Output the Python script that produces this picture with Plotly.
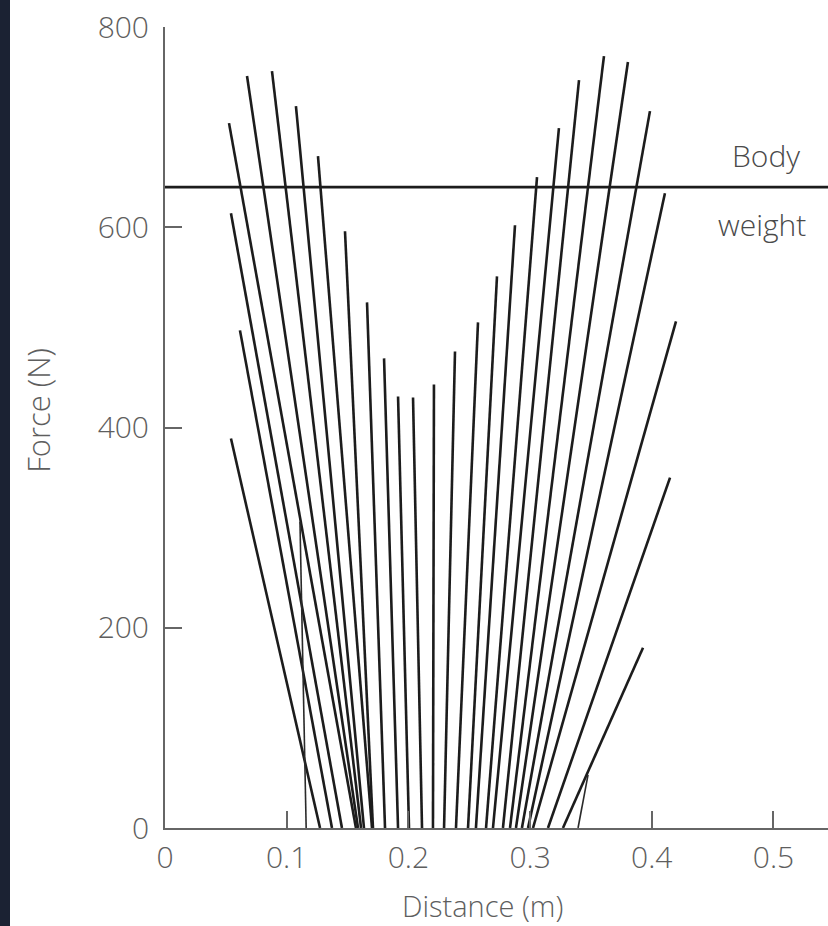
import plotly.graph_objects as go

# Force vectors: ground point (distance at F=0) and tip (distance, force)
base_x = [0.116, 0.1274, 0.1372, 0.1454, 0.1569, 0.1586, 0.1611, 0.1635, 0.1701, 0.1709,
          0.1808, 0.1915, 0.2005, 0.2112, 0.2202, 0.2293, 0.2391, 0.2490, 0.2555, 0.2638,
          0.2695, 0.2777, 0.2835, 0.2884, 0.2933, 0.2983, 0.3024, 0.3147, 0.3270, 0.3394]
tip_x = [0.1109, 0.0542, 0.0616, 0.0542, 0.0526, 0.0674, 0.0879, 0.1076, 0.1257, 0.1479,
         0.1660, 0.1800, 0.1915, 0.2038, 0.2210, 0.2383, 0.2572, 0.2728, 0.2876, 0.3057,
         0.3237, 0.3402, 0.3607, 0.3804, 0.3985, 0.4108, 0.4199, 0.4150, 0.3928, 0.3476]
tip_force = [306, 389, 497, 614, 704, 751, 756, 721, 671, 596,
             525, 469, 431, 430, 443, 476, 505, 551, 602, 650,
             699, 747, 771, 765, 716, 634, 506, 350, 180, 53]
thin = [0, 29]

body_weight = 640
x_ticks = [0, 0.1, 0.2, 0.3, 0.4, 0.5]
x_labels = ["0", "0.1", "0.2", "0.3", "0.4", "0.5"]
y_ticks = [0, 200, 400, 600, 800]
y_labels = ["0", "200", "400", "600", "800"]

X_MAX = 0.5448

fig = go.Figure()

xs, ys, xt, yt = [], [], [], []
for i, (b, t, f) in enumerate(zip(base_x, tip_x, tip_force)):
    if i in thin:
        xt += [b, t, None]; yt += [0, f, None]
    else:
        xs += [b, t, None]; ys += [0, f, None]

fig.add_trace(go.Scatter(x=xs, y=ys, mode="lines",
                         line=dict(color="#1c1c1c", width=2.6), hoverinfo="skip"))
fig.add_trace(go.Scatter(x=xt, y=yt, mode="lines",
                         line=dict(color="#2a2a2a", width=1.6), hoverinfo="skip"))
fig.add_trace(go.Scatter(x=[0, X_MAX], y=[body_weight, body_weight], mode="lines",
                         line=dict(color="#1c1c1c", width=2.8), hoverinfo="skip", cliponaxis=False))

font_family = "Open Sans, Lato, sans-serif"
gray = "#5e5e5e"
tick_font = dict(size=30, color=gray, family=font_family, weight=300)

fig.update_layout(
    width=828, height=926,
    margin=dict(l=165, r=0, t=27, b=98),
    plot_bgcolor="white", paper_bgcolor="white",
    showlegend=False,
    font=dict(family=font_family, color=gray, size=24),
    xaxis=dict(range=[0, X_MAX], tickvals=x_ticks, ticktext=x_labels,
               showgrid=False, zeroline=False, showline=True, linecolor="#666666", linewidth=2,
               ticks="inside", ticklen=17, tickwidth=2, tickcolor="#666666",
               tickfont=tick_font, ticklabelstandoff=2),
    yaxis=dict(range=[0, 800], tickvals=y_ticks, ticktext=y_labels,
               showgrid=False, zeroline=False, showline=True, linecolor="#666666", linewidth=2,
               ticks="inside", ticklen=17, tickwidth=2, tickcolor="#666666",
               tickfont=tick_font, ticklabelstandoff=8),
)

title_font = dict(size=31, color=gray, family=font_family, weight=300)
fig.add_annotation(text="Force (N)", xref="paper", yref="paper", x=-0.1916, y=0.522,
                   xanchor="center", yanchor="middle",
                   textangle=-90, showarrow=False, font=title_font)
fig.add_annotation(text="Distance (m)", xref="paper", yref="paper", x=0.4785, y=-0.0965,
                   xanchor="center", yanchor="middle",
                   showarrow=False, font=dict(size=29, color=gray, family=font_family, weight=300))
label_font = dict(size=30, color="#4a4a4a", family=font_family, weight=300)
fig.add_annotation(text="Body", xref="x", yref="y", x=0.4942, y=672,
                   xanchor="center", yanchor="middle",
                   showarrow=False, font=label_font)
fig.add_annotation(text="weight", xref="x", yref="y", x=0.4906, y=603,
                   xanchor="center", yanchor="middle",
                   showarrow=False, font=label_font)

# dark border strip at the left edge of the picture
fig.add_shape(type="rect", xref="paper", yref="paper",
              x0=-165 / 663, x1=-155 / 663, y0=-98 / 801, y1=(801 + 27) / 801,
              fillcolor="#1b2233", line=dict(width=0), layer="above")

fig.write_html("out.html", config={"displayModeBar": False},
               post_script="document.body.style.margin='0px';")
